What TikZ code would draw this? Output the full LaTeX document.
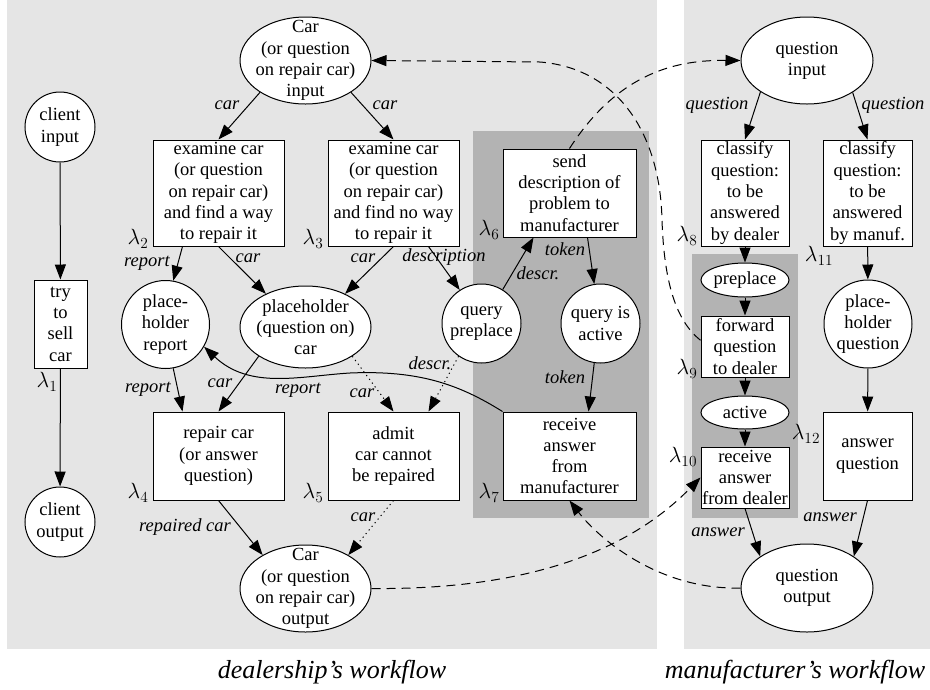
\documentclass[tikz,border=0pt]{standalone}
\usepackage{fix-cm}
\usepackage{fontspec}
\setmainfont{Liberation Serif}
\usetikzlibrary{arrows.meta,shapes.geometric}
\definecolor{FlowLight}{HTML}{E5E5E5}
\definecolor{FlowDark}{HTML}{B3B3B3}

\begin{document}
\begin{tikzpicture}[x=1pt, y=-1pt,
  every node/.style={font=\fontsize{18.5}{21.3}\selectfont, align=center},
  box/.style={draw, fill=white, line width=1pt, inner sep=0pt, minimum width=131pt, minimum height=106pt},
  circ/.style={circle, draw, fill=white, line width=1pt, inner sep=-4pt, minimum size=70pt},
  oval/.style={ellipse, draw, fill=white, line width=1pt, inner xsep=-5pt, inner ysep=-15pt},
  flow/.style={-{Triangle[length=15pt,width=11pt]}, line width=1pt},
  dotline/.style={dash pattern=on 1.2pt off 3.5pt},
  dashline/.style={dash pattern=on 9pt off 6pt},
  lbl/.style={font=\fontsize{18.5}{21.3}\selectfont\itshape, inner sep=0pt},
  lam/.style={font=\fontsize{22}{26}\selectfont, inner sep=0pt}]
\useasboundingbox (0,0) rectangle (930,689);

% Panels
\fill[FlowLight] (7,0) rectangle (657,649);
\fill[FlowLight] (684,0) rectangle (930,649);
\fill[FlowDark] (473,131) rectangle (649,518);
\fill[FlowDark] (692,254) rectangle (798,518);

% Client
\node[circ] (cin) at (60,127) {client\\input};
\node[box, minimum width=53pt, minimum height=88pt] (try) at (60.5,324) {try\\to\\sell\\car};
\node[circ] (cout) at (60,522) {client\\output};

% Dealership
\node[oval, minimum width=131pt, minimum height=87pt] (carin) at (305.5,60.5) {Car\\(or question\\on repair car)\\input};
\node[box] (ex2) at (218.5,193) {examine car\\(or question\\on repair car)\\and find a way\\to repair it};
\node[box] (ex3) at (393.5,193) {examine car\\(or question\\on repair car)\\and find no way\\to repair it};
\node[box, minimum width=133pt, minimum height=88pt] (snd) at (569.5,193) {send\\description of\\problem to\\manufacturer};
\node[circ, minimum size=88pt] (rep) at (165.5,324.5) {place-\\holder\\report};
\node[oval, minimum width=131pt, minimum height=82pt] (phcar) at (305.5,327) {placeholder\\(question on)\\car};
\node[circ, minimum size=79pt] (qpre) at (481.5,323.5) {query\\preplace};
\node[circ, minimum size=79pt] (qact) at (600.5,323.5) {query is\\active};
\node[box, minimum height=88pt] (fix) at (218.5,456) {repair car\\(or answer\\question)};
\node[box, minimum height=88pt] (adm) at (393.5,456) {admit\\car cannot\\be repaired};
\node[box, minimum width=133pt, minimum height=88pt] (rcv) at (569.5,456) {receive\\answer\\from\\manufacturer};
\node[oval, minimum width=131pt, minimum height=87pt] (carout) at (305.5,588.5) {Car\\(or question\\on repair car)\\output};

% Manufacturer
\node[oval, minimum width=132pt, minimum height=87pt] (qin) at (807,60.5) {question\\input};
\node[box, minimum width=88pt] (cl8) at (745,193) {classify\\question:\\to be\\answered\\by dealer};
\node[box, minimum width=89pt] (cl11) at (867.5,193) {classify\\question:\\to be\\answered\\by manuf.};
\node[oval, minimum width=88pt, minimum height=34pt] (pre) at (745,280) {preplace};
\node[box, minimum width=88pt, minimum height=61pt] (fwd) at (745,346.5) {forward\\question\\to dealer};
\node[oval, minimum width=88pt, minimum height=33pt] (act) at (745,412.5) {active};
\node[box, minimum width=88pt, minimum height=61pt] (rcvd) at (745,477.5) {receive\\answer\\from dealer};
\node[circ, minimum size=88pt] (phq) at (868,324) {place-\\holder\\question};
\node[box, minimum width=89pt, minimum height=88pt] (ans) at (867.5,456) {answer\\question};
\node[oval, minimum width=132pt, minimum height=88pt] (qout) at (807,588) {question\\output};

% Transition names
\foreach \x/\y/\k in {47/382/1, 138/239/2, 313/239/3, 138/493/4, 313/493/5, 489/230/6,
  489/493/7, 687/236/8, 687/369/9, 683/457/10, 819/256/11, 806/434/12}
  \node[lam] (lam\k) at (\x,\y) {$\lambda_{\k}$};

% Arcs
\draw[flow] (cin) -- (try);
\draw[flow] (try) -- (cout);
\draw[flow] (carin.215) -- (ex2.north);
\draw[flow] (carin.325) -- (ex3.north);
\draw[flow] ([xshift=30pt]ex2.south west) -- (rep.80);
\draw[flow] (ex2.south) -- (phcar.140);
\draw[flow] (ex3.south) -- (phcar.40);
\draw[flow] ([xshift=-31pt]ex3.south east) -- (qpre.123);
\draw[flow] (qpre.58) -- ([xshift=31pt]snd.south west);
\draw[flow] ([xshift=-49pt]snd.south east) -- (qact.99);
\draw[flow] (qact.261) -- ([xshift=-48pt]rcv.north east);
\draw[flow] (rep.280) -- ([xshift=30pt]fix.north west);
\draw[flow] (phcar.212) -- (fix.north);
\draw[flow, dotline] (phcar.-32) -- (adm.north);
\draw[flow, dotline] (qpre.235) -- ([xshift=-31pt]adm.north east);
\draw[flow] (fix.south) -- (carout.142);
\draw[flow, dotline] (adm.south) -- (carout.38);
\draw[flow] (rcv.north west) .. controls (460,385) and (420,370) .. (350,373)
  .. controls (300,376) and (250,390) .. (rep.-30);

\draw[flow] (qin.214) -- (cl8.north);
\draw[flow] (qin.-35) -- (cl11.north);
\draw[flow] (cl8) -- (pre);
\draw[flow] (pre) -- (fwd);
\draw[flow] (fwd) -- (act);
\draw[flow] (act) -- (rcvd);
\draw[flow] (rcvd.south) -- (qout.146);
\draw[flow] (cl11) -- (phq);
\draw[flow] (phq) -- (ans);
\draw[flow] (ans.south) -- (qout.34);

% Messages between the workflows
\draw[flow, dashline] (snd.north) .. controls (620,70) and (680,60) .. (qin.west);
\draw[flow, dashline] (carout.east) .. controls (530,590) and (630,550) .. (rcvd.west);
\draw[flow, dashline] (qout.west) .. controls (660,590) and (600,540) .. (rcv.south);
\draw[flow, dashline] (fwd.172) .. controls (675,320) and (664,280) .. (662,220)
  .. controls (660,130) and (615,68) .. (540,62) -- (carin.east);

% Arc labels
\foreach \x/\y/\txt [count=\i] in {227/105/car, 385/105/car, 147/263/report, 248/258/car,
  363/258/car, 444/257/description, 538/273/descr., 565/249/token, 565/377/token,
  148/389/report, 220/383/car, 298/390/report, 362/393/car, 430/363/descr.,
  185/527/repaired car, 363/517/car, 717/105/question, 893/105/question,
  718/532/answer, 830/517/answer}
  \node[lbl] (arc\i) at (\x,\y) {\txt};

% Titles
\node[font=\fontsize{26}{30}\selectfont\itshape] (dtitle) at (332,672) {dealership's workflow};
\node[font=\fontsize{26}{30}\selectfont\itshape] (mtitle) at (795,672) {manufacturer's workflow};
\end{tikzpicture}
\end{document}
